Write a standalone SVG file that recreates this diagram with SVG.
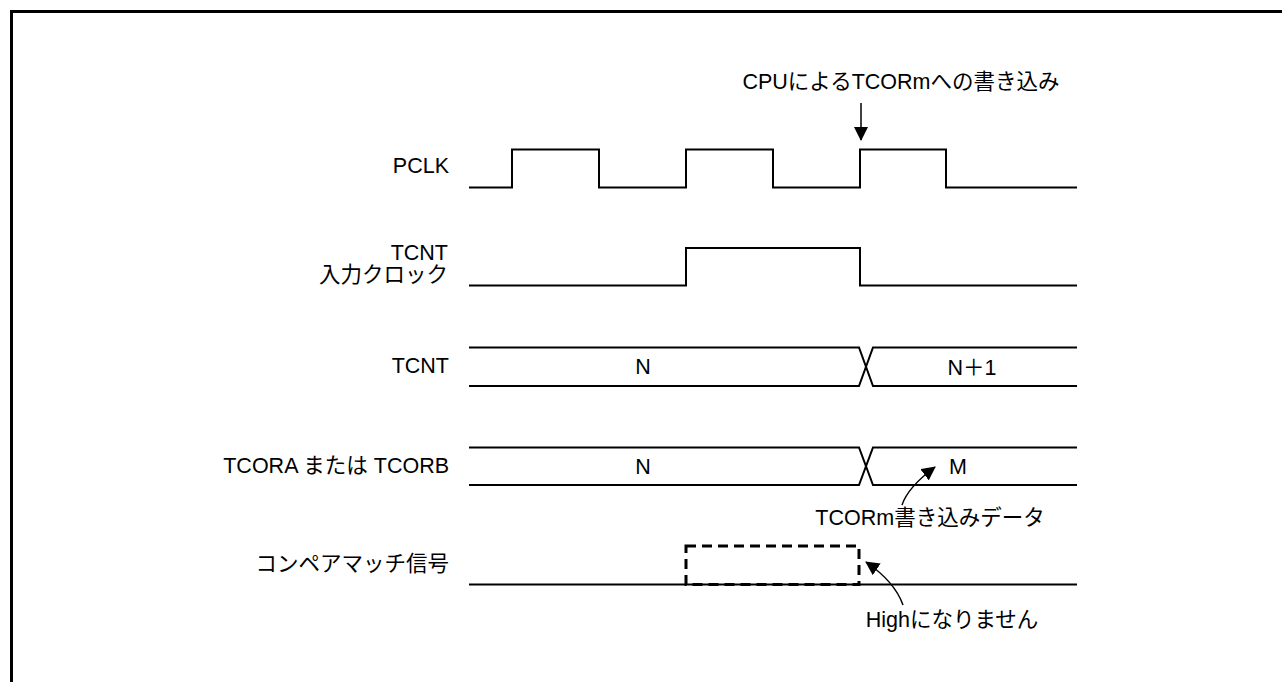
<svg xmlns="http://www.w3.org/2000/svg" width="1282" height="682" viewBox="0 0 1282 682">
<defs>
<style>
.sig{fill:none;stroke:#000;stroke-width:2;stroke-linejoin:miter}
.lbl{font-family:"Liberation Sans","Noto Sans CJK JP",sans-serif;font-size:21.5px;fill:#000}
.r{text-anchor:end}
.m{text-anchor:middle}
.arr{fill:none;stroke:#000;stroke-width:1.5}
</style>
<marker id="ah" viewBox="0 0 14 14" refX="13" refY="7" markerWidth="14" markerHeight="14" markerUnits="userSpaceOnUse" orient="auto">
<path d="M0,0 L14,7 L0,14 Z" fill="#000"/>
</marker>
</defs>
<rect width="1282" height="682" fill="#fff"/>
<path d="M11.5,682 V11.5 H1282" fill="none" stroke="#000" stroke-width="3"/>

<g id="pclk">
<text class="lbl r" x="449" y="173">PCLK</text>
<path class="sig" d="M469,187.5 H512 V149.5 H599 V187.5 H686 V149.5 H773 V187.5 H860 V149.5 H946 V187.5 H1077"/>
</g>

<g id="tcnt-clk">
<text class="lbl r" x="448" y="260">TCNT</text>
<text class="lbl r" x="448" y="282">入力クロック</text>
<path class="sig" d="M469,285.5 H686 V248 H860 V285.5 H1077"/>
</g>

<g id="tcnt">
<text class="lbl r" x="449" y="373">TCNT</text>
<path class="sig" d="M469,347.5 H859 L873,386 H1077 M469,386 H859 L873,347.5 H1077"/>
<text class="lbl m" x="643" y="374">N</text>
<text class="lbl m" x="972" y="375">N＋1</text>
</g>

<g id="tcor">
<text class="lbl r" x="449" y="473">TCORA または TCORB</text>
<path class="sig" d="M469,447.5 H859 L873,485 H1077 M469,485 H859 L873,447.5 H1077"/>
<text class="lbl m" x="643" y="474">N</text>
<text class="lbl m" x="958" y="474">M</text>
</g>

<g id="compare">
<text class="lbl r" x="449" y="571">コンペアマッチ信号</text>
<path class="sig" d="M469,584.5 H1077"/>
<rect x="686" y="546" width="173" height="38.5" fill="none" stroke="#000" stroke-width="3" stroke-dasharray="10,6"/>
</g>

<g id="annotations">
<text class="lbl m" x="901" y="89">CPUによるTCORmへの書き込み</text>
<text class="lbl m" x="930" y="525">TCORm書き込みデータ</text>
<text class="lbl m" x="952" y="627">Highになりません</text>
</g>

<g id="connectors">
<path class="arr" d="M861,103 V140" marker-end="url(#ah)"/>
<path class="arr" d="M902,505 Q908,487 935,467" marker-end="url(#ah)"/>
<path class="arr" d="M903,605 Q895,582 866,562" marker-end="url(#ah)"/>
</g>
</svg>
